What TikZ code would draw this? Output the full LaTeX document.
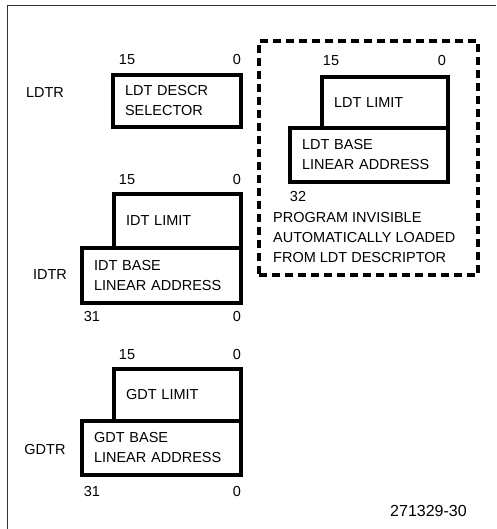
\documentclass[tikz,border=0pt]{standalone}
\usepackage{fontspec}
\setmainfont{Liberation Sans}
\newcommand{\regfont}{\fontsize{14.5}{20}\selectfont}
\begin{document}
\begin{tikzpicture}[x=1pt,y=-1pt,
  regbox/.style={draw, line width=3.2pt, inner xsep=12pt, inner ysep=0pt,
    outer sep=0pt, align=left, font=\regfont},
  bitlbl/.style={font=\regfont, inner sep=0pt},
  reglbl/.style={font=\regfont, inner sep=0pt},
  framebox/.style={draw, line width=3.5pt, dash pattern=on 8pt off 5pt},
  frameline/.style={draw=black!80, line width=1.5pt}
]
\useasboundingbox (0,0) rectangle (496,529);
% outer frame (top and left edges)
\coordinate (ftl) at (7.5,5.5);
\coordinate (ftr) at (496,5.5);
\coordinate (fbl) at (7.5,529);
\draw[frameline] (ftr) -- (ftl) -- (fbl);

% LDTR
\node[regbox, minimum width=128pt, minimum height=52pt, text width=104pt] (ldtsel) at (177,101) {LDT DESCR\\SELECTOR};
\node[reglbl] (ldtr) at (45,93) {LDTR};
\node[bitlbl] (ldtsel15) at (127,60) {15};
\node[bitlbl] (ldtsel0) at (237,60) {0};

% IDTR
\node[regbox, minimum width=159pt, minimum height=55pt, text width=135pt] (idtbase) at (161.5,275.5) {IDT BASE\\LINEAR ADDRESS};
\node[regbox, minimum width=127pt, minimum height=54pt, text width=103pt] (idtlim) at (177.5,221) {IDT LIMIT};
\node[reglbl] (idtr) at (50,275) {IDTR};
\node[bitlbl] (idt15) at (127,180) {15};
\node[bitlbl] (idt0a) at (237,180) {0};
\node[bitlbl] (idt31) at (92,317) {31};
\node[bitlbl] (idt0b) at (237,317) {0};

% GDTR
\node[regbox, minimum width=159pt, minimum height=54pt, text width=135pt] (gdtbase) at (161.5,448) {GDT BASE\\LINEAR ADDRESS};
\node[regbox, minimum width=127pt, minimum height=52pt, text width=103pt] (gdtlim) at (177.5,395) {GDT LIMIT};
\node[reglbl] (gdtr) at (45,450) {GDTR};
\node[bitlbl] (gdt15) at (127,355) {15};
\node[bitlbl] (gdt0a) at (237,355) {0};
\node[bitlbl] (gdt31) at (92,492) {31};
\node[bitlbl] (gdt0b) at (237,492) {0};

% LDT descriptor cache (program invisible)
\node[framebox, minimum width=219pt, minimum height=234pt, inner sep=0pt] (cache) at (368.5,158) {};
\node[regbox, minimum width=158pt, minimum height=54pt, text width=134pt] (ldtbase) at (369,155) {LDT BASE\\LINEAR ADDRESS};
\node[regbox, minimum width=126pt, minimum height=51pt, text width=102pt] (ldtlim) at (385,102.5) {LDT LIMIT};
\node[bitlbl] (ldt15) at (331,61) {15};
\node[bitlbl] (ldt0) at (442,61) {0};
\node[bitlbl] (ldt32) at (298,197) {32};
\node[reglbl, anchor=west, align=left] (invis) at (273,238) {PROGRAM INVISIBLE\\AUTOMATICALLY LOADED\\FROM LDT DESCRIPTOR};

% figure number
\node[inner sep=0pt, font=\fontsize{16}{18}\selectfont] (fignum) at (428.5,511) {271329-30};
\end{tikzpicture}
\end{document}
